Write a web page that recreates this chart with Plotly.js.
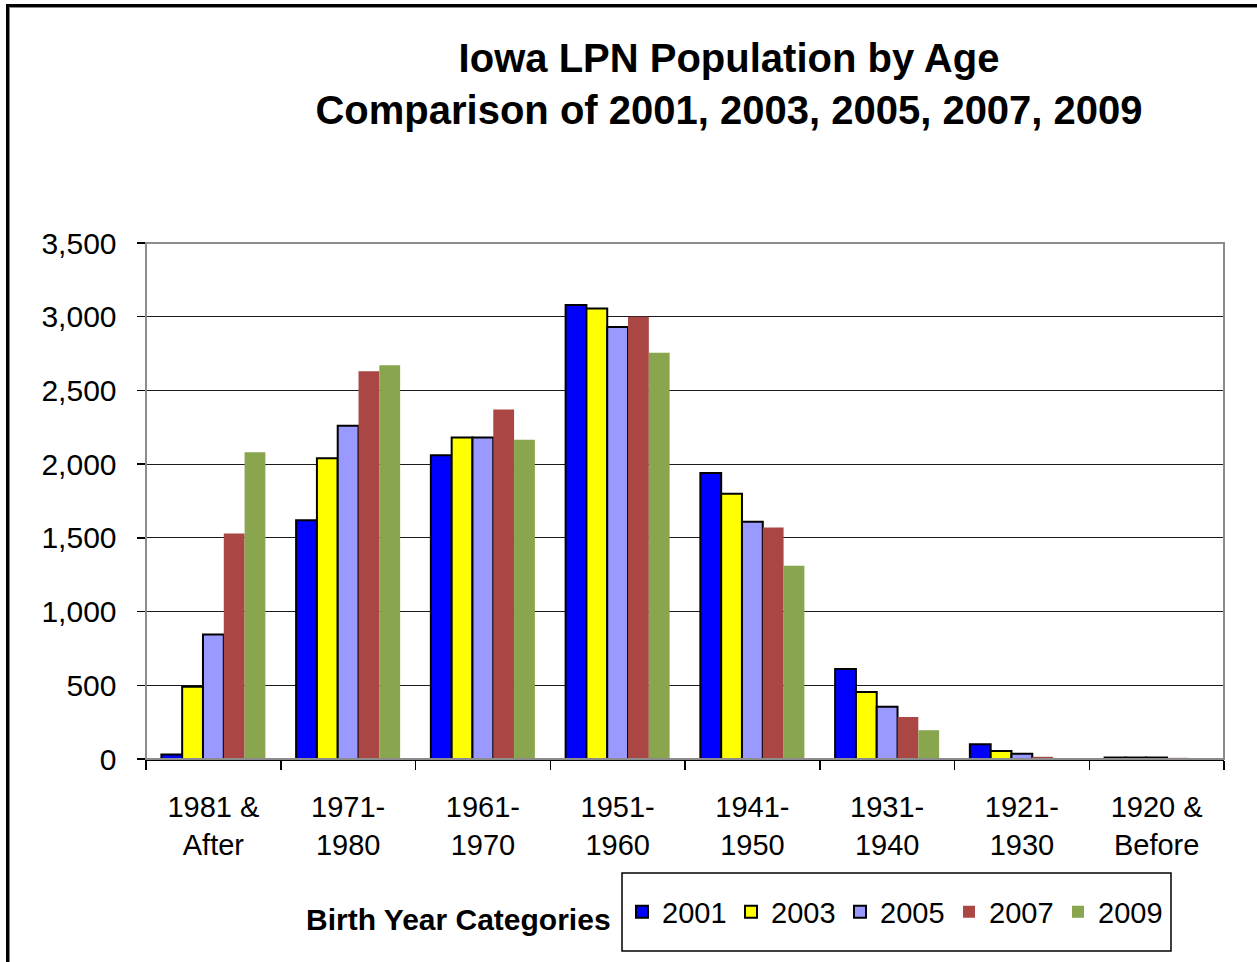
<!DOCTYPE html>
<html>
<head>
<meta charset="utf-8">
<script src="https://cdn.plot.ly/plotly-3.0.1.min.js"></script>
<style>
  html, body { margin: 0; padding: 0; background: #fff; }
  #wrap { position: relative; width: 1257px; height: 962px; overflow: hidden; }
  #chart { position: absolute; left: 0; top: 0; width: 1257px; height: 962px; }
  #frame { position: absolute; left: 6px; top: 4px; width: 1249px; height: 962px;
           border-left: 3px solid #000; border-top: 3px solid #000; border-right: 1px solid #aaa;
           box-shadow: inset 1px 1px 0 #888; pointer-events: none; }
</style>
</head>
<body>
<div id="wrap">
  <div id="chart"></div>
  <div id="frame"></div>
</div>
<script>
const categories = ["1981 &<br>After", "1971-<br>1980", "1961-<br>1970", "1951-<br>1960",
                    "1941-<br>1950", "1931-<br>1940", "1921-<br>1930", "1920 &<br>Before"];
const years = ["2001", "2003", "2005", "2007", "2009"];
const values2001 = [30, 1620, 2060, 3080, 1940, 610, 100, 10];
const values2003 = [490, 2040, 2180, 3055, 1800, 455, 55, 10];
const values2005 = [845, 2260, 2180, 2930, 1610, 355, 35, 10];
const values2007 = [1530, 2630, 2370, 3000, 1570, 285, 15, 8];
const values2009 = [2080, 2670, 2165, 2755, 1310, 195, 3, 2];
const seriesValues = [values2001, values2003, values2005, values2007, values2009];
const colors = ["#0000FF", "#FFFF00", "#9999FF", "#AA4643", "#89A54E"];
const outlined = [true, true, true, false, false];

const FONT = '"Liberation Sans", Arial, sans-serif';

const traces = years.map((yr, i) => ({
  type: "bar",
  name: yr,
  x: categories,
  y: seriesValues[i],
  marker: {
    color: colors[i],
    line: { color: outlined[i] ? "#000000" : colors[i], width: outlined[i] ? 2 : 0 }
  },
  hoverinfo: "x+y+name"
}));

const L = 146, R = 1224, T = 243, B = 759;
const W = 1257, H = 962;
const px2x = p => (p - L) / (R - L);
const px2y = p => (B - p) / (B - T);

const layout = {
  width: W, height: H,
  margin: { l: L, r: W - R, t: T, b: H - B, pad: 0, autoexpand: false },
  paper_bgcolor: "rgba(0,0,0,0)",
  plot_bgcolor: "#ffffff",
  font: { family: FONT, color: "#000000", size: 30 },
  barmode: "group",
  bargap: 0.228,
  bargroupgap: 0,
  title: {
    text: "<b>Iowa LPN Population by Age<br>Comparison of 2001, 2003, 2005, 2007, 2009</b>",
    font: { family: FONT, size: 40, color: "#000000" },
    xref: "container", x: 729 / W, xanchor: "center",
    yref: "container", y: 1 - 72 / H, yanchor: "top"
  },
  xaxis: {
    type: "category",
    tickson: "boundaries",
    ticks: "outside", ticklen: 9, tickwidth: 1.5, tickcolor: "#000",
    showline: true, linecolor: "#000", linewidth: 1.5,
    showgrid: false,
    tickfont: { family: FONT, size: 29, color: "#000" },
    ticklabelstandoff: 22,
    fixedrange: true
  },
  yaxis: {
    range: [0, 3500],
    dtick: 500,
    tickformat: ",d",
    ticks: "outside", ticklen: 8, tickwidth: 1.5, tickcolor: "#000",
    showline: true, linecolor: "#000", linewidth: 1.5,
    showgrid: true, gridcolor: "#1a1a1a", gridwidth: 1,
    zeroline: false,
    tickfont: { family: FONT, size: 30, color: "#000" },
    ticklabelstandoff: 14,
    fixedrange: true
  },
  showlegend: true,
  legend: {
    orientation: "h",
    x: px2x(622), xanchor: "left",
    y: px2y(912), yanchor: "middle",
    bgcolor: "rgba(0,0,0,0)", borderwidth: 0,
    font: { family: FONT, size: 29, color: "#000" },
    entrywidth: 64, entrywidthmode: "pixels",
    itemwidth: 30,
    traceorder: "normal"
  },
  annotations: [{
    text: "<b>Birth Year Categories</b>",
    xref: "paper", yref: "paper",
    x: px2x(458), xanchor: "center",
    y: px2y(919), yanchor: "middle",
    showarrow: false,
    font: { family: FONT, size: 30, color: "#000" }
  }],
  shapes: [{
    type: "rect", xref: "paper", yref: "paper",
    x0: 0, x1: 1, y0: 0, y1: 1,
    line: { color: "#8c8c8c", width: 2 }, layer: "above"
  }, {
    type: "rect", xref: "paper", yref: "paper",
    x0: px2x(622), x1: px2x(1171), y0: px2y(951), y1: px2y(873),
    fillcolor: "#ffffff",
    line: { color: "#000000", width: 1.5 }, layer: "below"
  }]
};

Plotly.newPlot("chart", traces, layout, { displayModeBar: false, staticPlot: true });
</script>
</body>
</html>
